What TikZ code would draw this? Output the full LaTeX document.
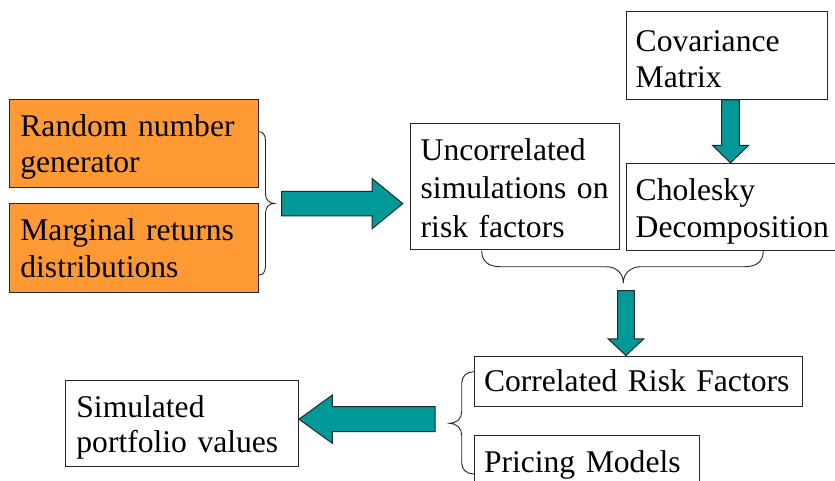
\documentclass[tikz,border=0pt]{standalone}
\usepackage{fontspec}
\setmainfont{Liberation Serif}
\usetikzlibrary{calc,fit}
\definecolor{boxorange}{HTML}{FF9933}
\definecolor{arrowteal}{HTML}{009999}

% Block arrow from tail #1 to tip #2: body half-width #3, head half-width #4, head length #5
\newcommand\blockarrow[5]{%
  \path ($(#2)!#5!(#1)$) coordinate (hb);
  \draw[blk] ($(#1)!#3!90:(#2)$) -- ($(hb)!#3!90:(#2)$) -- ($(hb)!#4!90:(#2)$)
    -- (#2) -- ($(hb)!#4!-90:(#2)$) -- ($(hb)!#3!-90:(#2)$) -- ($(#1)!#3!-90:(#2)$) -- cycle;}

\begin{document}
\begin{tikzpicture}[x=1pt,y=-1pt,
  box/.style={draw=black!85, line width=1pt, inner sep=0pt},
  srcbox/.style={box, fill=boxorange},
  lbl/.style={anchor=base west, inner sep=0pt, align=left, text width=400pt,
              font=\fontsize{31.6}{36.7}\selectfont},
  blk/.style={draw=black!85, line width=1pt, fill=arrowteal, line join=miter},
  brace/.style={draw=black!85, line width=0.9pt}]

\clip (0,0) rectangle (835,481);
\fill[white] (0,0) rectangle (835,481);

% boxes
\node[srcbox, fit={(9.3,99.3) (258.7,187.7)}] (rng) {};
\node[srcbox, fit={(9.3,203.3) (258.7,292.3)}] (marg) {};
\node[box, fit={(410,123.3) (619,249.7)}] (unc) {};
\node[box, fit={(626,11.7) (827.3,99.3)}] (cov) {};
\node[box, fit={(626,163.3) (850,250.7)}] (chol) {};
\node[box, fit={(474,356) (802.7,406)}] (corr) {};
\node[box, fit={(474,435.7) (699,500)}] (price) {};
\node[box, fit={(65.5,380) (298.5,466.7)}] (sim) {};

% texts
\node[lbl] at ($(rng.north west)+(11.4,37.5)$) {Random number\\generator};
\node[lbl] at ($(marg.north west)+(11.4,37.5)$) {Marginal returns\\distributions};
\node[lbl, font=\fontsize{31.6}{38.7}\selectfont] at ($(unc.north west)+(11,37.5)$) {Uncorrelated\\simulations on\\risk factors};
\node[lbl] at ($(cov.north west)+(10,40)$) {Covariance\\Matrix};
\node[lbl] at ($(chol.north west)+(10,38)$) {Cholesky\\Decomposition};
\node[lbl] at ($(corr.north west)+(10.3,35.5)$) {Correlated Risk Factors};
\node[lbl] at ($(price.north west)+(10.3,37.5)$) {Pricing Models};
\node[lbl, font=\fontsize{31.6}{35.5}\selectfont] at ($(sim.north west)+(11.2,37.5)$) {Simulated\\portfolio values};

% braces
\draw[brace] (259,131.7) .. controls (263,131.7) and (265.5,135) .. (265.5,141)
  -- (265.5,194) .. controls (265.5,199.5) and (269,203.4) .. (274.5,203.4)
  .. controls (269,203.4) and (265.5,207.5) .. (265.5,213)
  -- (265.5,266) .. controls (265.5,272) and (263,275) .. (259,275);
\draw[brace] (481.7,250.7) .. controls (481.7,261) and (488,266.7) .. (500,266.7)
  -- (606,266.7) .. controls (616,266.7) and (623.3,273) .. (623.3,283)
  .. controls (623.3,273) and (631,266.7) .. (641,266.7)
  -- (745,266.7) .. controls (757,266.7) and (763.3,261) .. (763.3,250.7);
\draw[brace] (474,371.7) .. controls (467,371.7) and (461.7,376) .. (461.7,383)
  -- (461.7,412) .. controls (461.7,419) and (456,423.3) .. (449.5,423.3)
  .. controls (456,423.3) and (461.7,428) .. (461.7,435)
  -- (461.7,463) .. controls (461.7,470) and (467,474) .. (474,474);

% arrow ends
\coordinate (a1tail) at (281.7,203.6);
\coordinate (a1tip) at ($(a1tail -| unc.west)+(-6.7,0)$);
\coordinate (a2tail) at (730.5,0 |- cov.south);
\coordinate (a2tip) at (a2tail |- chol.north);
\coordinate (a3tail) at (625.9,290.7);
\coordinate (a3tip) at (a3tail |- corr.north);
\coordinate (a4tail) at (435,419.2);
\coordinate (a4tip) at (a4tail -| sim.east);

% block arrows
\blockarrow{a1tail}{a1tip}{12.2pt}{25pt}{30.6pt}
\blockarrow{a2tail}{a2tip}{8.8pt}{18pt}{17.3pt}
\blockarrow{a3tail}{a3tip}{8.4pt}{17.9pt}{16.7pt}
\blockarrow{a4tail}{a4tip}{12.5pt}{24.2pt}{33.4pt}
\end{tikzpicture}
\end{document}
